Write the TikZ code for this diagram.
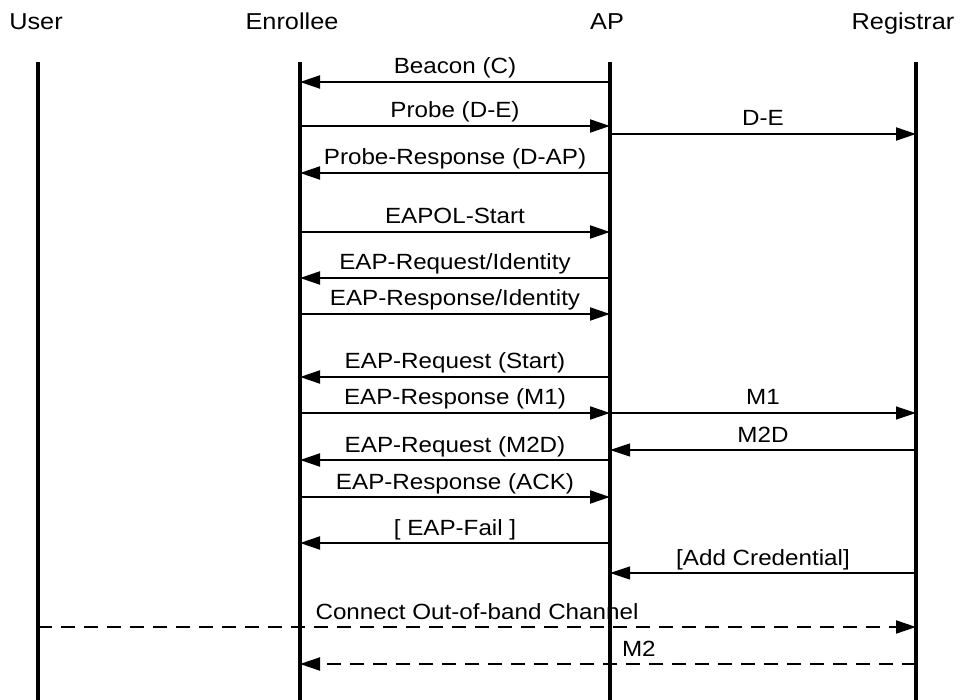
\documentclass[tikz,border=0pt]{standalone}
\usepackage{fontspec}
\setmainfont[FakeStretch=1.1]{Liberation Sans}
\usetikzlibrary{arrows.meta}
\tikzset{
  life/.style={line width=4pt},
  msg/.style={line width=2pt, -{Triangle[length=20pt,width=13pt]}},
  thinmsg/.style={msg, line width=1.2pt},
  oob/.style={msg, dash pattern=on 14pt off 9pt},
  lbl/.style={anchor=base, inner sep=0pt, yshift=8pt, font=\fontsize{22}{26}\selectfont},
  head/.style={anchor=base, inner sep=0pt, font=\fontsize{23}{28}\selectfont}
}
\begin{document}
\begin{tikzpicture}[x=1pt, y=-1pt]
  \useasboundingbox (0,0) rectangle (961,700);
  % actors and lifelines
  \foreach \n/\x/\hx/\t in {user/38/36/User, enr/300/292/Enrollee, ap/610/607/AP, reg/916/903/Registrar} {
    \node[head] (\n) at (\hx,30) {\t};
    \coordinate (\n-top) at (\x,62);
    \coordinate (\n-bot) at (\x,700);
    \draw[life] (\n-top) -- (\n-bot);
  }
  % messages
  \foreach \a/\b/\y/\t/\s in {
      ap/enr/82/{Beacon (C)}/msg,
      enr/ap/126/{Probe (D-E)}/msg,
      ap/reg/134/{D-E}/msg,
      ap/enr/173/{Probe-Response (D-AP)}/msg,
      enr/ap/232/{EAPOL-Start}/msg,
      ap/enr/278/{EAP-Request/Identity}/msg,
      enr/ap/314/{EAP-Response/Identity}/msg,
      ap/enr/377/{EAP-Request (Start)}/msg,
      enr/ap/413/{EAP-Response (M1)}/msg,
      ap/reg/413/{M1}/thinmsg,
      reg/ap/450/{M2D}/thinmsg,
      ap/enr/460/{EAP-Request (M2D)}/msg,
      enr/ap/497/{EAP-Response (ACK)}/msg,
      ap/enr/543/{[ EAP-Fail ]}/msg,
      reg/ap/573/{[Add Credential]}/thinmsg} {
    \coordinate (s) at (\a-top |- 0,\y);
    \coordinate (e) at (\b-top |- 0,\y);
    \draw[\s] (s) -- node[lbl] {\t} (e);
  }
  % out-of-band channel
  \coordinate (oob-s) at (user-top |- 0,627);
  \coordinate (oob-e) at (reg-top |- 0,627);
  \draw[oob] (oob-s) -- node[lbl] {Connect Out-of-band Channel} (oob-e);
  \coordinate (m2-s) at (reg-top |- 0,664);
  \coordinate (m2-e) at (enr-top |- 0,664);
  \draw[oob] (m2-s) -- node[lbl, pos=0.45] {M2} (m2-e);
\end{tikzpicture}
\end{document}
